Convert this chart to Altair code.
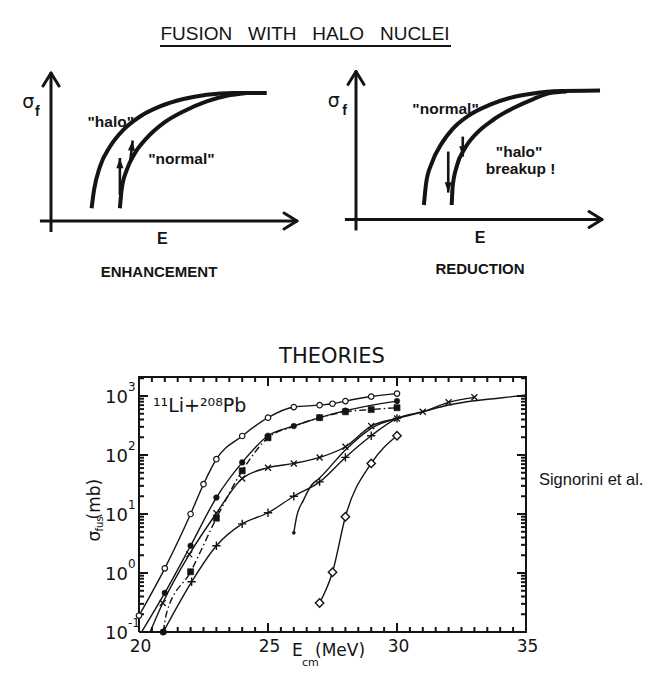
import math
import altair as alt
import pandas as pd

# ---------------------------------------------------------------------------
# Schematic sketches: sigma_f versus E, arbitrary units (0..100 on each axis)
# ---------------------------------------------------------------------------
ENH_HALO_E = [16.5, 17.5, 19.9, 24.0, 29.4, 36.2, 44.3, 53.8, 63.3, 74.1, 87.7]
ENH_HALO_S = [8.6, 21.0, 36.8, 50.3, 61.6, 70.6, 77.4, 82.4, 85.3, 86.5, 86.5]
ENH_NORM_E = [28.0, 28.7, 30.8, 34.1, 38.9, 45.7, 53.8, 63.3, 71.4, 79.5]
ENH_NORM_S = [8.6, 21.0, 34.5, 45.8, 56.0, 66.1, 74.0, 80.8, 84.6, 86.5]

RED_NORM_E = [27.6, 28.5, 30.8, 34.9, 39.6, 46.3, 54.5, 64.0, 73.5, 80.2, 99.2]
RED_NORM_S = [9.8, 24.5, 38.1, 51.6, 61.8, 70.8, 77.6, 82.8, 85.5, 86.6, 87.1]
RED_HALO_E = [38.9, 39.3, 40.9, 44.3, 49.1, 55.8, 64.0, 72.1, 78.9, 85.6]
RED_HALO_S = [9.8, 22.2, 35.7, 48.2, 58.4, 67.4, 75.3, 81.4, 85.4, 86.5]

# arrows between the curves: tail (E0, S0) -> head (E1, S1)
ENH_ARR_E0 = [28.0, 32.1]
ENH_ARR_S0 = [17.6, 39.1]
ENH_ARR_E1 = [28.0, 33.2]
ENH_ARR_S1 = [42.6, 54.4]
RED_ARR_E0 = [37.5, 43.4]
RED_ARR_S0 = [45.9, 56.0]
RED_ARR_E1 = [37.5, 43.4]
RED_ARR_S1 = [18.2, 42.5]

# ---------------------------------------------------------------------------
# 11Li + 208Pb fusion cross sections, sigma_fus (mb) versus E_cm (MeV)
# ---------------------------------------------------------------------------
OPEN_E = [20, 21, 22, 22.5, 23, 24, 25, 26, 27, 27.5, 28, 29, 30]
OPEN_S = [0.19, 1.2, 10, 32, 85, 210, 430, 650, 700, 740, 820, 980, 1100]
OPEN_MARK = list(range(13))

FILL_E = [20.1, 21, 22, 23, 24, 25, 26, 27, 28, 30]
FILL_S = [0.1, 0.46, 2.9, 19, 75, 212, 310, 430, 565, 820]
FILL_MARK = [1, 2, 3, 4, 5, 6, 7, 8, 9]

SQ_E = [20.94, 21.07, 22, 23, 24, 25, 26, 27, 28, 29, 30]
SQ_S = [0.1, 0.21, 1.05, 8.5, 54, 196, 305, 430, 540, 590, 633]
SQ_MARK = [2, 3, 4, 5, 7, 8, 9, 10]

X_E = [20.43, 20.92, 21.95, 23, 24, 25, 26, 27, 28, 29, 30, 31, 32, 33]
X_S = [0.1, 0.31, 2.07, 10.3, 40, 61, 72, 91, 138, 310, 417, 540, 782, 950]
X_MARK = list(range(1, 14))

PLUS_E = [20.94, 22.04, 23, 24, 25, 26, 27, 28, 29, 30, 31, 32, 33, 34, 35]
PLUS_S = [0.1, 0.71, 2.9, 6.8, 10.5, 20, 35, 91, 212, 417, 540, 703, 830, 925, 1040]
PLUS_MARK = [1, 2, 3, 4, 5, 6, 7, 8, 9]

DOT_E = [26, 26.11, 26.37, 26.69, 26.98, 28, 29, 30]
DOT_S = [4.8, 9, 17, 31, 40, 122, 283, 417]
DOT_MARK = [0]

DIA_E = [27, 27.5, 28, 29, 30]
DIA_S = [0.31, 1.03, 9, 72, 212]
DIA_MARK = [0, 1, 2, 3, 4]

ENDPOINT_E = [20.94]
ENDPOINT_S = [0.1]

X_MAJOR = [20, 25, 30, 35]
X_LABELS = ["20", "25", "30", "35"]
X_MINOR = [20.5, 21, 21.5, 22, 22.5, 23, 23.5, 24, 24.5, 25.5, 26, 26.5, 27, 27.5, 28, 28.5,
           29, 29.5, 30.5, 31, 31.5, 32, 32.5, 33, 33.5, 34, 34.5]
Y_MAJOR = [0.1, 1, 10, 100, 1000]
Y_EXP = ["-1", "0", "1", "2", "3"]
Y_MINOR = [0.2, 0.3, 0.4, 0.5, 0.6, 0.7, 0.8, 0.9,
           2, 3, 4, 5, 6, 7, 8, 9,
           20, 30, 40, 50, 60, 70, 80, 90,
           200, 300, 400, 500, 600, 700, 800, 900,
           2000]

# ---------------------------------------------------------------------------
INK = "#141414"
PLOT_FONT = "DejaVu Sans"
SKETCH_FONT = "Liberation Sans"
W, H = 668, 680

PX_PER_E = 246 / 100.0   # sketch units -> pixels (horizontal)
PX_PER_S = 148 / 100.0   # sketch units -> pixels (vertical)

HEAD = "M0,0L0.62,1.8L-0.62,1.8Z"
CROSS_X = "M-1,-1L1,1M-1,1L1,-1"
CROSS_P = "M-1,0L1,0M0,-1L0,1"

layers = []


def sketch(xr, yr, curves, arr, labels, sig, e_lab, caption):
    xs = alt.Scale(domain=[0, 100], range=xr, nice=False, zero=False)
    ys = alt.Scale(domain=[0, 100], range=yr, nice=False, zero=False)

    def X(f):
        return alt.X(f, type="quantitative", scale=xs, axis=None)

    def Y(f):
        return alt.Y(f, type="quantitative", scale=ys, axis=None)

    out = []
    # axis shafts
    axes = pd.DataFrame({"x0": [-4.5, 0], "y0": [0, -7.4], "x1": [100, 0], "y1": [0, 100]})
    out.append(alt.Chart(axes).mark_rule(strokeWidth=3, color=INK).encode(
        x=X("x0"), x2="x1", y=Y("y0"), y2="y1"))
    # open arrowheads: two arms drawn back from each tip (13 px back, 8 px aside)
    back_e, side_e = 13 / PX_PER_E, 8 / PX_PER_E
    back_s, side_s = 13 / PX_PER_S, 8 / PX_PER_S
    arms = pd.DataFrame({
        "x0": [100, 100, 0, 0],
        "y0": [0, 0, 100, 100],
        "x1": [100 - back_e, 100 - back_e, -side_e, side_e],
        "y1": [side_s, -side_s, 100 - back_s, 100 - back_s],
    })
    out.append(alt.Chart(arms).mark_rule(strokeWidth=3, color=INK, strokeCap="round").encode(
        x=X("x0"), x2="x1", y=Y("y0"), y2="y1"))

    rows = []
    for name, (es, ss) in curves.items():
        for i, (e, s) in enumerate(zip(es, ss)):
            rows.append({"E": e, "S": s, "name": name, "i": i})
    out.append(alt.Chart(pd.DataFrame(rows)).mark_line(
        strokeWidth=4, color=INK, interpolate="monotone", strokeCap="butt").encode(
        x=X("E"), y=Y("S"), detail="name:N", order="i:Q"))

    e0, s0, e1, s1 = arr
    adf = pd.DataFrame({"e0": e0, "s0": s0, "e1": e1, "s1": s1})
    adf["ang"] = [math.degrees(math.atan2((b - a) * PX_PER_E, (d - c) * PX_PER_S))
                  for a, b, c, d in zip(adf.e0, adf.e1, adf.s0, adf.s1)]
    out.append(alt.Chart(adf).mark_rule(strokeWidth=2.6, color=INK).encode(
        x=X("e0"), x2="e1", y=Y("s0"), y2="s1"))
    out.append(alt.Chart(adf).mark_point(shape=HEAD, size=130, filled=True, color=INK, opacity=1).encode(
        x=X("e1"), y=Y("s1"), angle=alt.Angle("ang:Q", scale=None)))

    ldf = pd.DataFrame(labels, columns=["E", "S", "t"])
    out.append(alt.Chart(ldf).mark_text(font=SKETCH_FONT, fontSize=15.5, fontWeight="bold", color=INK,
                                        align="center", baseline="middle").encode(
        x=X("E"), y=Y("S"), text="t:N"))

    sdf = pd.DataFrame([sig[0] + ["\u03c3"]], columns=["E", "S", "t"])
    out.append(alt.Chart(sdf).mark_text(font=PLOT_FONT, fontSize=19, color=INK,
                                        align="center", baseline="middle").encode(
        x=X("E"), y=Y("S"), text="t:N"))
    fdf = pd.DataFrame([sig[1] + ["f"]], columns=["E", "S", "t"])
    out.append(alt.Chart(fdf).mark_text(font=SKETCH_FONT, fontSize=14, fontWeight="bold", color=INK,
                                        align="center", baseline="middle").encode(
        x=X("E"), y=Y("S"), text="t:N"))

    edf = pd.DataFrame([e_lab + ["E"]], columns=["E", "S", "t"])
    out.append(alt.Chart(edf).mark_text(font=SKETCH_FONT, fontSize=16, fontWeight="bold", color=INK,
                                        align="center", baseline="middle").encode(
        x=X("E"), y=Y("S"), text="t:N"))
    cdf = pd.DataFrame([caption], columns=["E", "S", "t"])
    out.append(alt.Chart(cdf).mark_text(font=SKETCH_FONT, fontSize=15, fontWeight="bold", color=INK,
                                        align="center", baseline="middle").encode(
        x=X("E"), y=Y("S"), text="t:N"))
    return out


layers += sketch(
    [51, 297], [221, 73],
    {"halo": (ENH_HALO_E, ENH_HALO_S), "normal": (ENH_NORM_E, ENH_NORM_S)},
    (ENH_ARR_E0, ENH_ARR_S0, ENH_ARR_E1, ENH_ARR_S1),
    [[24.3, 67.0, '"halo"'], [53.0, 42.0, '"normal"']],
    ([-9.2, 80.5], [-5.6, 73.5]),
    [45.3, -12.2], [43.9, -34.2, "ENHANCEMENT"],
)
layers += sketch(
    [356, 602], [219.5, 71.5],
    {"normal": (RED_NORM_E, RED_NORM_S), "halo": (RED_HALO_E, RED_HALO_S)},
    (RED_ARR_E0, RED_ARR_S0, RED_ARR_E1, RED_ARR_S1),
    [[36.4, 74.8, '"normal"'], [66.3, 45.8, '"halo"'], [66.9, 34.0, "breakup !"]],
    ([-9.0, 80.0], [-4.6, 73.0]),
    [50.4, -12.2], [50.4, -33.5, "REDUCTION"],
)

# page title with its underline
title_df = pd.DataFrame({"t": ["FUSION\u00a0\u00a0\u00a0WITH\u00a0\u00a0\u00a0HALO\u00a0\u00a0\u00a0NUCLEI"]})
layers.append(alt.Chart(title_df).mark_text(font=SKETCH_FONT, fontSize=19, color=INK,
                                            align="center", baseline="alphabetic").encode(
    x=alt.value(305), y=alt.value(40), text="t:N"))
layers.append(alt.Chart(title_df).mark_rule(strokeWidth=2, color=INK).encode(
    x=alt.value(160), x2=alt.value(451), y=alt.value(46)))

# ---------------------------------------------------------------------------
# lower panel
# ---------------------------------------------------------------------------
E_LO, E_HI = 20, 35
S_LO, S_HI = 0.1, 2100
X_PX = (139, 526)
Y_PX = (632, 377)
XS = alt.Scale(domain=[E_LO, E_HI], range=list(X_PX), nice=False, zero=False)
YS = alt.Scale(type="log", domain=[S_LO, S_HI], range=list(Y_PX), nice=False)
PX_PER_MEV = (X_PX[1] - X_PX[0]) / (E_HI - E_LO)
PX_PER_DECADE = (Y_PX[0] - Y_PX[1]) / math.log10(S_HI / S_LO)
MAJOR_LEN, MINOR_LEN = 9.0, 5.0


def BX(f="E"):
    return alt.X(f, type="quantitative", scale=XS, axis=None)


def BY(f="S"):
    return alt.Y(f, type="quantitative", scale=YS, axis=None)


CURVES = {
    "open": (OPEN_E, OPEN_S, OPEN_MARK),
    "fill": (FILL_E, FILL_S, FILL_MARK),
    "square": (SQ_E, SQ_S, SQ_MARK),
    "x": (X_E, X_S, X_MARK),
    "plus": (PLUS_E, PLUS_S, PLUS_MARK),
    "dot": (DOT_E, DOT_S, DOT_MARK),
    "diamond": (DIA_E, DIA_S, DIA_MARK),
}
line_rows, mark_rows = [], []
for name, (es, ss, mk) in CURVES.items():
    for i, (e, s) in enumerate(zip(es, ss)):
        line_rows.append({"E": e, "S": s, "curve": name, "i": i})
        if i in mk:
            mark_rows.append({"E": e, "S": s, "curve": name})
for e, s in zip(ENDPOINT_E, ENDPOINT_S):
    mark_rows.append({"E": e, "S": s, "curve": "endpoint"})
lines = pd.DataFrame(line_rows)
marks = pd.DataFrame(mark_rows)

solid = lines[lines.curve != "square"]
dashed = lines[lines.curve == "square"]
layers.append(alt.Chart(solid).mark_line(strokeWidth=1.4, color=INK, interpolate="monotone").encode(
    x=BX(), y=BY(), detail="curve:N", order="i:Q"))
layers.append(alt.Chart(dashed).mark_line(strokeWidth=1.4, color=INK, interpolate="monotone",
                                          strokeDash=[7, 3, 1.5, 3]).encode(
    x=BX(), y=BY(), order="i:Q"))

# frame
frame = pd.DataFrame({"E": [E_LO, E_HI, E_HI, E_LO, E_LO], "S": [S_LO, S_LO, S_HI, S_HI, S_LO],
                      "i": [0, 1, 2, 3, 4]})
layers.append(alt.Chart(frame).mark_line(strokeWidth=2, color=INK, strokeJoin="miter").encode(
    x=BX(), y=BY(), order="i:Q"))

# inward ticks on all four sides, longer at the labelled values
vt_rows, ht_rows = [], []
for vals, length in ((X_MAJOR, MAJOR_LEN), (X_MINOR, MINOR_LEN)):
    f = 10 ** (length / PX_PER_DECADE)
    for e in vals:
        vt_rows.append({"E": float(e), "S0": S_LO, "S1": S_LO * f})
        vt_rows.append({"E": float(e), "S0": float(S_HI), "S1": S_HI / f})
for vals, length in ((Y_MAJOR, MAJOR_LEN), (Y_MINOR, MINOR_LEN)):
    d = length / PX_PER_MEV
    for s in vals:
        ht_rows.append({"S": float(s), "E0": float(E_LO), "E1": E_LO + d})
        ht_rows.append({"S": float(s), "E0": float(E_HI), "E1": E_HI - d})
layers.append(alt.Chart(pd.DataFrame(vt_rows)).mark_rule(strokeWidth=2, color=INK).encode(
    x=BX(), y=BY("S0"), y2="S1"))
layers.append(alt.Chart(pd.DataFrame(ht_rows)).mark_rule(strokeWidth=2, color=INK).encode(
    x=BX("E0"), x2="E1", y=BY()))

SYMBOLS = {
    "open": dict(shape="circle", size=30, fill="white", stroke=INK, strokeWidth=1.2),
    "fill": dict(shape="circle", size=32, fill=INK, stroke=INK, strokeWidth=0.5),
    "square": dict(shape="square", size=38, fill=INK, stroke=INK, strokeWidth=0.5),
    "x": dict(shape=CROSS_X, size=36, stroke=INK, strokeWidth=1.3, filled=False),
    "plus": dict(shape=CROSS_P, size=70, stroke=INK, strokeWidth=1.4, filled=False),
    "dot": dict(shape="circle", size=10, fill=INK, stroke=INK, strokeWidth=0.5),
    "diamond": dict(shape="diamond", size=70, fill="white", stroke=INK, strokeWidth=1.4),
    "endpoint": dict(shape="circle", size=42, fill=INK, stroke=INK, strokeWidth=0.5),
}
for name, style in SYMBOLS.items():
    sub = marks[marks.curve == name]
    layers.append(alt.Chart(sub).mark_point(opacity=1, **style).encode(x=BX(), y=BY()))

# tick labels
xl = pd.DataFrame({"E": X_MAJOR, "t": X_LABELS, "S": S_LO})
layers.append(alt.Chart(xl).mark_text(font=PLOT_FONT, fontSize=17, color=INK, align="center",
                                      baseline="middle", dy=15, dx=1.5).encode(
    x=BX(), y=BY(), text="t:N"))
yl = pd.DataFrame({"S": Y_MAJOR, "exp": Y_EXP, "base": "10", "E": E_LO})
layers.append(alt.Chart(yl).mark_text(font=PLOT_FONT, fontSize=18, color=INK, align="right",
                                      baseline="middle", dx=-11, dy=2).encode(
    x=BX(), y=BY(), text="base:N"))
layers.append(alt.Chart(yl).mark_text(font=PLOT_FONT, fontSize=12, color=INK, align="left",
                                      baseline="middle", dx=-11, dy=-9).encode(
    x=BX(), y=BY(), text="exp:N"))

# axis titles and annotations
ann = pd.DataFrame([
    [25.93, S_LO, "E", 17, 0, 19, "left", "middle"],
    [25.93, S_LO, "cm", 11, 10, 31, "left", "middle"],
    [25.93, S_LO, "(MeV)", 17, 23, 19, "left", "middle"],
    [27.48, S_HI, "THEORIES", 21, 0, -14, "center", "alphabetic"],
    [20.54, 535, "\u00b9\u00b9Li+\u00b2\u2070\u2078Pb", 19, 0, 0, "left", "alphabetic"],
], columns=["E", "S", "t", "fs", "dx", "dy", "al", "bl"])
for _, r in ann.iterrows():
    layers.append(alt.Chart(pd.DataFrame([r])).mark_text(
        font=PLOT_FONT, fontSize=float(r.fs), color=INK, align=r.al,
        baseline=r.bl, dx=float(r.dx), dy=float(r.dy)).encode(x=BX(), y=BY(), text="t:N"))

ytitle = pd.DataFrame([
    [18.29, 17.9, "(mb)", 17],
    [18.49, 6.8, "fus", 10],
    [18.29, 4.24, "\u03c3", 17],
], columns=["E", "S", "t", "fs"])
for _, r in ytitle.iterrows():
    layers.append(alt.Chart(pd.DataFrame([r])).mark_text(font=PLOT_FONT, fontSize=float(r.fs), color=INK,
                                                         angle=270, align="center", baseline="middle").encode(
        x=BX(), y=BY(), text="t:N"))

sig = pd.DataFrame({"E": [35.5], "S": [37.7], "t": ["Signorini et al."]})
layers.append(alt.Chart(sig).mark_text(font=SKETCH_FONT, fontSize=16.5, color=INK, align="left",
                                       baseline="middle").encode(x=BX(), y=BY(), text="t:N"))

chart = (
    alt.layer(*layers)
    .resolve_scale(x="independent", y="independent")
    .properties(width=W, height=H, padding=0, background="white",
                autosize=alt.AutoSizeParams(type="none"))
    .configure_view(strokeWidth=0)
)
chart.save("out.html", embed_options={"renderer": "svg", "actions": False})
